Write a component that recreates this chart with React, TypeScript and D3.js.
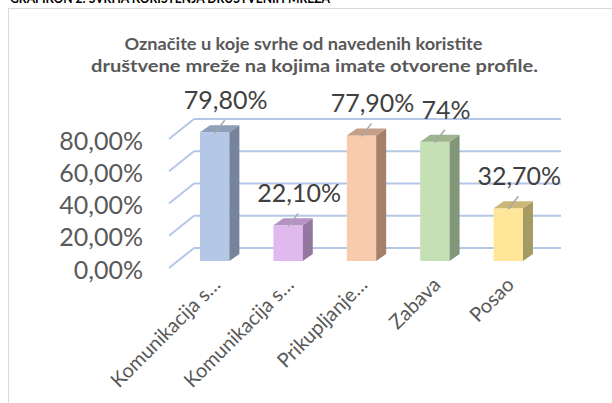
import React from "react";
import * as d3 from "d3";

const categories = [
  "Komunikacija s…",
  "Komunikacija s…",
  "Prikupljanje…",
  "Zabava",
  "Posao",
];
const values = [79.8, 22.1, 77.9, 74, 32.7];
const valueLabels = ["79,80%", "22,10%", "77,90%", "74%", "32,70%"];
const tickValues = [0, 20, 40, 60, 80];
const tickLabels = ["0,00%", "20,00%", "40,00%", "60,00%", "80,00%"];
const titleLines = [
  "Označite u koje svrhe od navedenih koristite",
  "društvene mreže na kojima imate otvorene profile.",
];
const headerText = "GRAFIKON 2: SVRHA KORIŠTENJA DRUŠTVENIH MREŽA";

const fronts = ["#b4c7e7", "#e0b9ef", "#f8cbad", "#c5e0b4", "#ffe699"];
const sides = ["#75839b", "#93779f", "#a5806a", "#82967a", "#a89a63"];
const tops = ["#8e9fba", "#b493c3", "#c69f88", "#9db48f", "#cbb878"];

const W = 612;
const H = 403;
const FONT = "Lato, 'Open Sans', 'Liberation Sans', sans-serif";

export default function App() {
  const y = d3.scaleLinear().domain([0, 80]).range([268, 139]);
  const x = d3.scaleBand<number>().domain(d3.range(values.length)).range([169, 536]);
  const depth = { dx: 25, dy: -20 };
  const barPlane = { dx: 9, dy: -7 };
  const barSide = { dx: 10, dy: -7 };
  const bw = x.bandwidth() * 0.4;

  return (
    <svg
      width={W}
      height={H}
      style={{ position: "absolute", left: 0, top: 0, background: "#fff" }}
    >
      <rect x={0} y={0} width={W} height={H} fill="#fff" />
      <text
        x={10}
        y={3}
        fontFamily={FONT}
        fontWeight="bold"
        fontSize={14}
        fill="#000"
        textLength={320}
        lengthAdjust="spacingAndGlyphs"
      >
        {headerText}
      </text>
      <rect x={8.5} y={8.5} width={700} height={500} fill="#fff" stroke="#d9d9d9" strokeWidth={1} />
      <text
        x={303.5}
        y={50}
        textAnchor="middle"
        fontFamily={FONT}
        fontWeight="bold"
        fontSize={17}
        fill="#595959"
        textLength={358}
        lengthAdjust="spacingAndGlyphs"
      >
        {titleLines[0]}
      </text>
      <text
        x={314.5}
        y={72}
        textAnchor="middle"
        fontFamily={FONT}
        fontWeight="bold"
        fontSize={17}
        fill="#595959"
        textLength={447}
        lengthAdjust="spacingAndGlyphs"
      >
        {titleLines[1]}
      </text>

      {tickValues.map((v) => {
        const yf = y(v);
        const x0 = x.range()[0];
        const x1 = x.range()[1];
        return (
          <g key={"g" + v} stroke="#b4c7e7" strokeWidth={2} fill="none">
            <line x1={x0} y1={yf} x2={x0 + depth.dx} y2={yf + depth.dy} />
            <line x1={x0 + depth.dx} y1={yf + depth.dy} x2={x1 + depth.dx} y2={yf + depth.dy} />
          </g>
        );
      })}

      {tickValues.map((v, i) => (
        <text
          key={"t" + v}
          x={143}
          y={y(v) + 10.5}
          textAnchor="end"
          fontFamily={FONT}
          fontSize={25}
          fill="#595959"
        >
          {tickLabels[i]}
        </text>
      ))}

      {values.map((v, i) => {
        const cx = (x(i) as number) + x.bandwidth() / 2 + barPlane.dx;
        const left = cx - bw / 2;
        const right = cx + bw / 2;
        const bottom = y(0) + barPlane.dy;
        const top = y(v) + barPlane.dy;
        const sidePts = [
          [right, top],
          [right + barSide.dx, top + barSide.dy],
          [right + barSide.dx, bottom + barSide.dy],
          [right, bottom],
        ];
        const topPts = [
          [left, top],
          [right, top],
          [right + barSide.dx, top + barSide.dy],
          [left + barSide.dx, top + barSide.dy],
        ];
        return (
          <g key={"b" + i}>
            <rect x={left} y={top} width={bw} height={bottom - top} fill={fronts[i]} />
            <polygon points={sidePts.map((p) => p.join(",")).join(" ")} fill={sides[i]} />
            <polygon points={topPts.map((p) => p.join(",")).join(" ")} fill={tops[i]} />
            <line
              x1={cx}
              y1={top + 1}
              x2={cx + 10}
              y2={top - 12}
              stroke="#a6a6a6"
              strokeWidth={1.5}
            />
            <text
              x={cx + 11}
              y={top - 23}
              textAnchor="middle"
              fontFamily={FONT}
              fontSize={25}
              fill="#404040"
            >
              {valueLabels[i]}
            </text>
            <text
              transform={`translate(${cx + 7},286) rotate(-45)`}
              textAnchor="end"
              fontFamily={FONT}
              fontSize={20}
              fill="#595959"
            >
              {categories[i]}
            </text>
          </g>
        );
      })}
    </svg>
  );
}
